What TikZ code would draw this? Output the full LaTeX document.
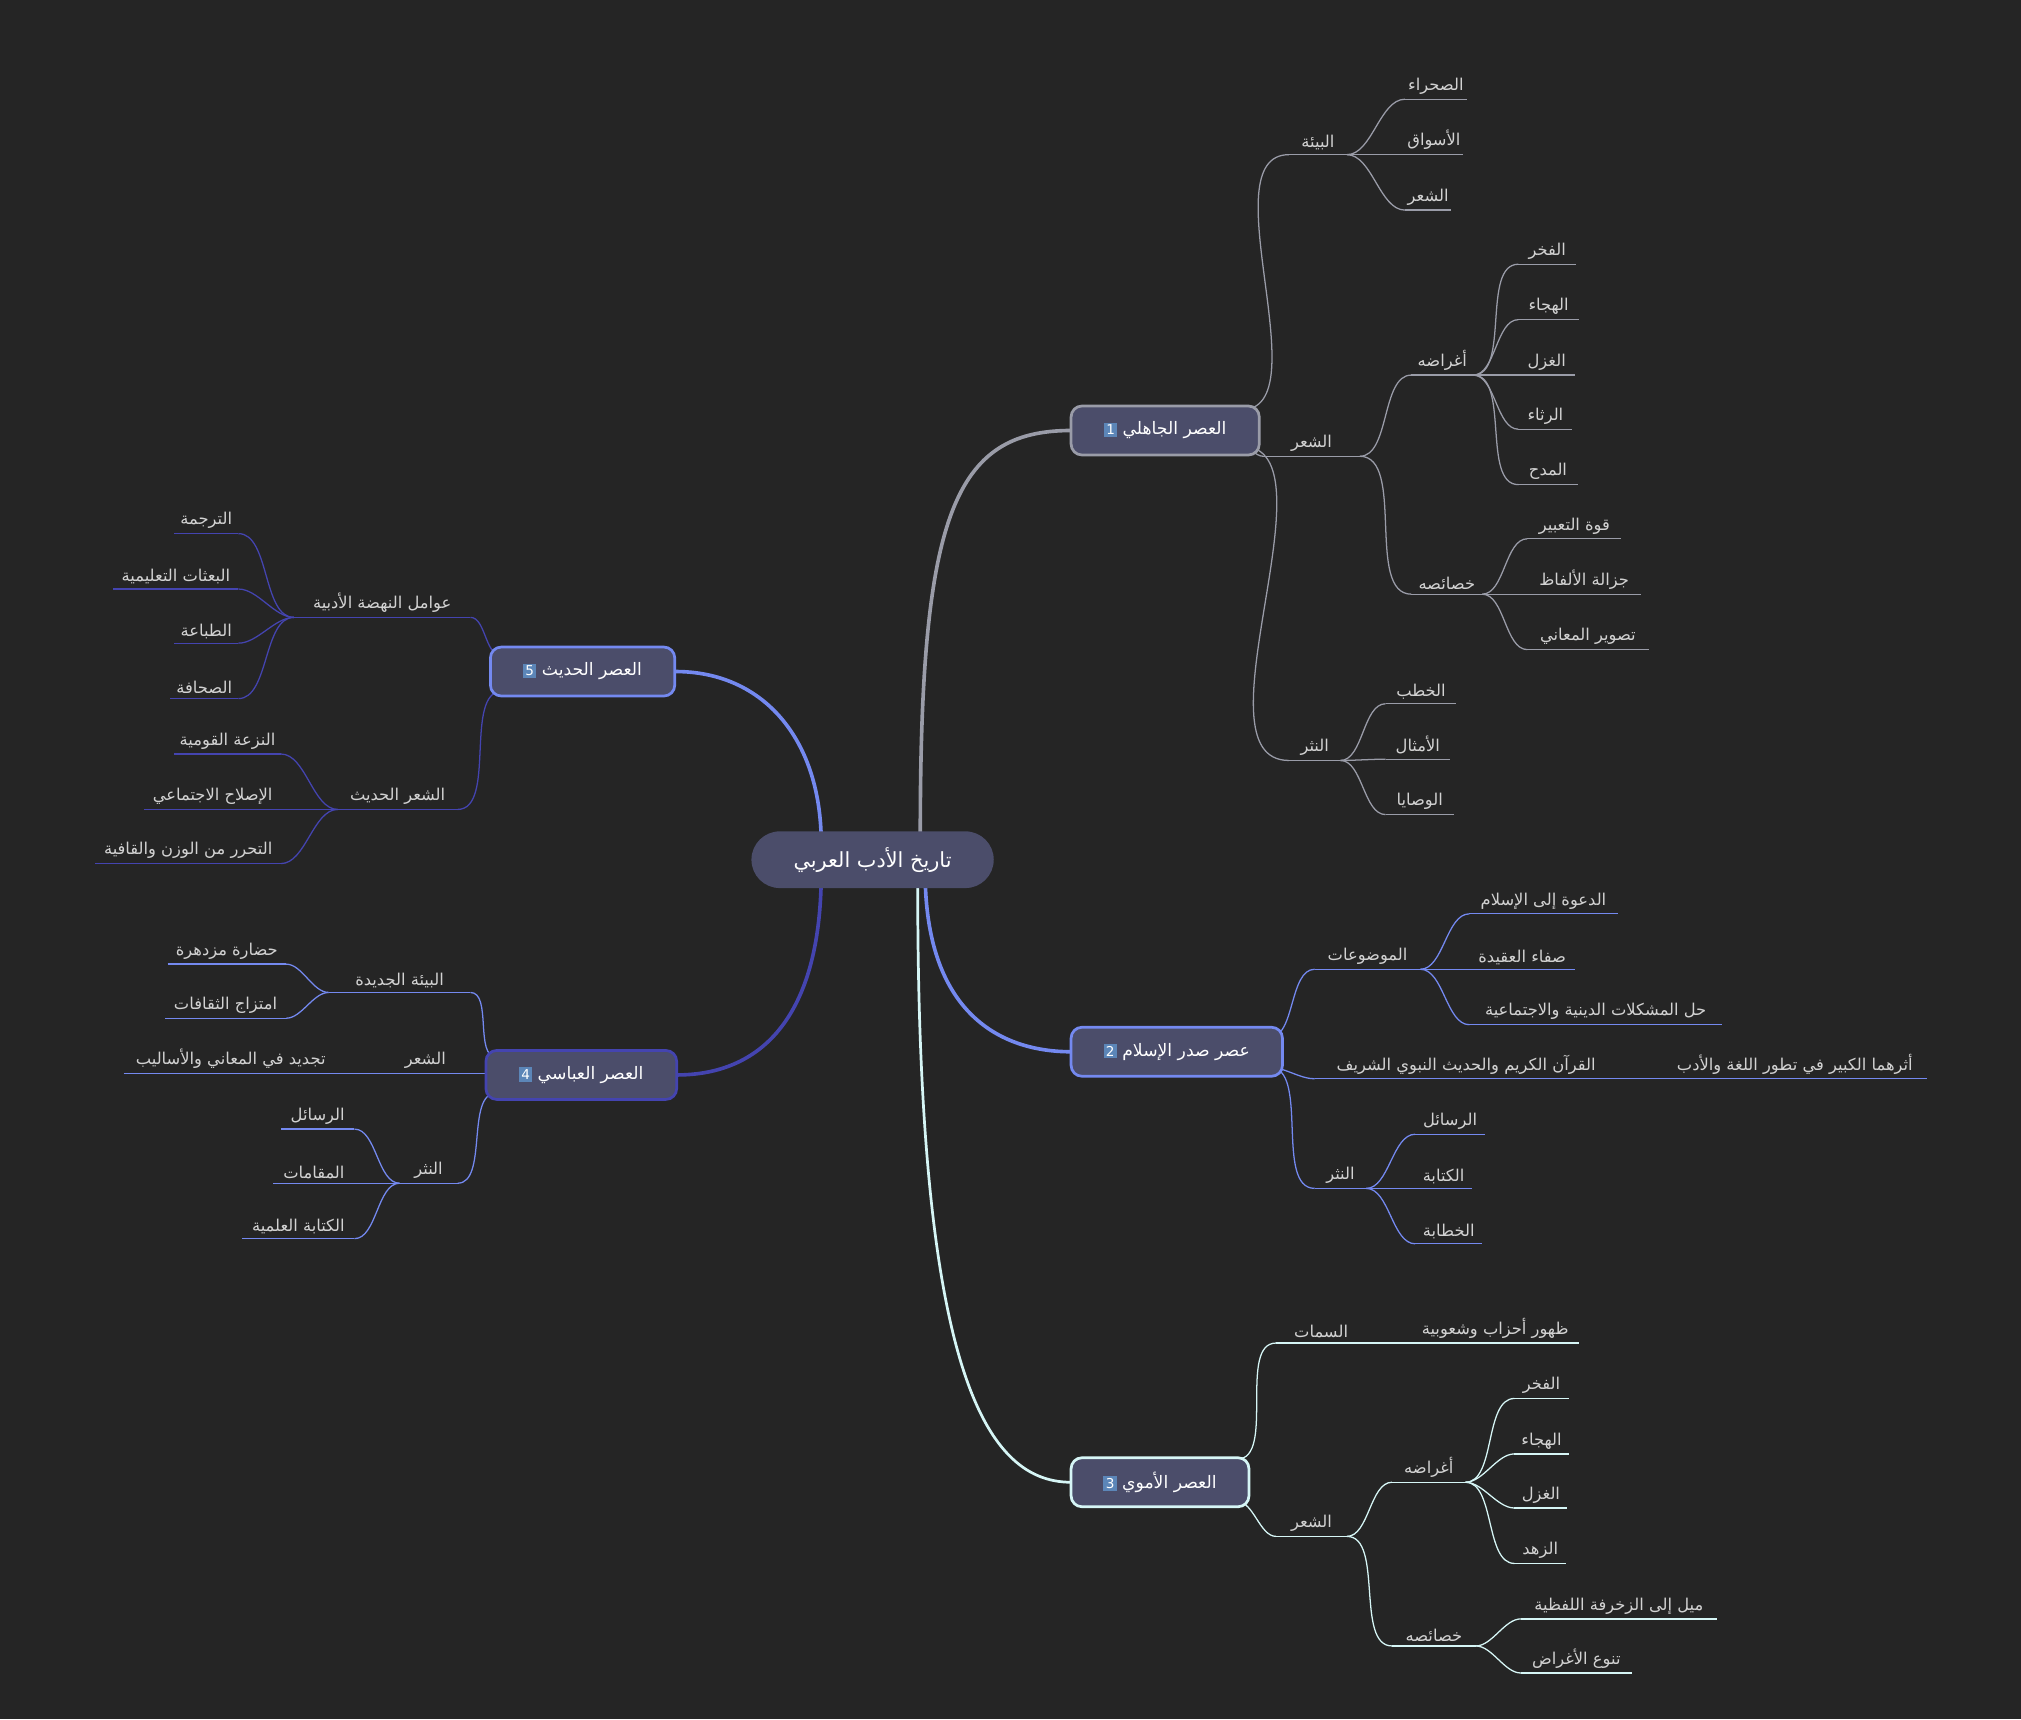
\documentclass[tikz,border=0pt]{standalone}
\usepackage{fontspec}
\setmainfont{DejaVu Sans}
\newfontfamily\arfont[Script=Arabic]{DejaVu Sans}
\TeXXeTstate=1
\newcommand\AR[1]{{\arfont\beginR #1\endR}}
\definecolor{bg}{HTML}{252525}
\definecolor{txt}{HTML}{D2D2D2}
\definecolor{boxf}{HTML}{4B4D6A}
\definecolor{cgray}{HTML}{9A9CA8}
\definecolor{cblue}{HTML}{7489F0}
\definecolor{cdark}{HTML}{4444B0}
\definecolor{ccyan}{HTML}{D6F6F6}
\definecolor{keyc}{HTML}{5C86B8}
\newcommand\keycap[1]{{\setlength\fboxsep{2.5pt}\colorbox{keyc}{\textcolor{white}{\fontsize{15}{15}\selectfont #1}}}}
\tikzset{
  leaf/.style={line width=1.4pt},
  lbl/.style={text=txt,font=\fontsize{18}{21}\selectfont,anchor=south,inner sep=2pt,yshift=3pt},
  br/.style={draw=#1,line width=3pt,fill=boxf,rounded corners=12pt,minimum height=38*0.05cm,text=white,font=\fontsize{19}{23}\selectfont,inner sep=0pt},
  main/.style={line width=4pt}
}
% name, x1, x2, y, text, color
\newcommand\mitem[6]{\coordinate (#1-L) at (#2,#4); \coordinate (#1-R) at (#3,#4);
  \draw[leaf,#6] (#1-L) -- (#1-R);
  \node[lbl] (#1) at ({(#2+#3)/2},#4) {\AR{#5}};}
\newcommand\rc[3]{\draw[leaf,#3] (#1) to[out=0,in=180,looseness=0.8] (#2);}
\newcommand\lc[3]{\draw[leaf,#3] (#1) to[out=180,in=0,looseness=0.8] (#2);}
\begin{document}
\begin{tikzpicture}[x=0.05cm,y=-0.05cm]
\fill[bg] (0,0) rectangle (1568,1334);
\useasboundingbox (0,0) rectangle (1568,1334);
\coordinate (r1) at (714,646); \coordinate (r2) at (718,688);
\coordinate (r3) at (712,688); \coordinate (r4) at (637,688); \coordinate (r5) at (637,646);
\coordinate (e1w) at (831,334); \coordinate (e2w) at (831,816); \coordinate (e3w) at (831,1150);
\coordinate (e4e) at (525,834); \coordinate (e5e) at (524,521);
\draw[main,cgray] (r1) .. controls (714,400) and (740,334) .. (e1w);
\draw[main,cblue] (r2) .. controls (722,790) and (780,816) .. (e2w);
\draw[main,ccyan,line width=3pt] (r3) .. controls (712,1050) and (760,1150) .. (e3w);
\draw[main,cdark] (r4) .. controls (634,790) and (590,834) .. (e4e);
\draw[main,cblue] (r5) .. controls (634,570) and (590,521) .. (e5e);
% root
\node[fill=boxf,rounded corners=22*0.05cm,minimum width=188*0.05cm,minimum height=44*0.05cm,text=white,font=\fontsize{23}{27}\selectfont] (root) at (677,667) {\AR{تاريخ الأدب العربي}};
% ---- branch 1
\coordinate (p1) at (963,318); \coordinate (p1b) at (963,346);
\mitem{a}{1000}{1045}{120}{البيئة}{cgray}
\mitem{a1}{1090}{1138}{77}{الصحراء}{cgray}
\mitem{a2}{1090}{1135}{120}{الأسواق}{cgray}
\mitem{a3}{1090}{1126}{163}{الشعر}{cgray}
\mitem{s}{980}{1055}{354}{الشعر}{cgray}
\mitem{g}{1095}{1143}{291}{أغراضه}{cgray}
\mitem{g1}{1178}{1223}{205}{الفخر}{cgray}
\mitem{g2}{1178}{1225}{248}{الهجاء}{cgray}
\mitem{g3}{1178}{1222}{291}{الغزل}{cgray}
\mitem{g4}{1178}{1220}{333}{الرثاء}{cgray}
\mitem{g5}{1178}{1224}{376}{المدح}{cgray}
\mitem{k}{1095}{1150}{461}{خصائصه}{cgray}
\mitem{k1}{1185}{1258}{418}{قوة التعبير}{cgray}
\mitem{k2}{1185}{1273}{461}{جزالة الألفاظ}{cgray}
\mitem{k3}{1185}{1279}{504}{تصوير المعاني}{cgray}
\mitem{n}{1000}{1040}{590}{النثر}{cgray}
\mitem{n1}{1075}{1130}{546}{الخطب}{cgray}
\mitem{n2}{1075}{1125}{589}{الأمثال}{cgray}
\mitem{n3}{1075}{1128}{632}{الوصايا}{cgray}
\rc{p1}{a-L}{cgray}\rc{p1b}{s-L}{cgray}\rc{p1b}{n-L}{cgray}
\rc{a-R}{a1-L}{cgray}\rc{a-R}{a2-L}{cgray}\rc{a-R}{a3-L}{cgray}
\rc{s-R}{g-L}{cgray}\rc{s-R}{k-L}{cgray}
\rc{g-R}{g1-L}{cgray}\rc{g-R}{g2-L}{cgray}\rc{g-R}{g3-L}{cgray}\rc{g-R}{g4-L}{cgray}\rc{g-R}{g5-L}{cgray}
\rc{k-R}{k1-L}{cgray}\rc{k-R}{k2-L}{cgray}\rc{k-R}{k3-L}{cgray}
\rc{n-R}{n1-L}{cgray}\rc{n-R}{n2-L}{cgray}\rc{n-R}{n3-L}{cgray}
% ---- branch 2
\coordinate (p2) at (985,805); \coordinate (p2b) at (985,828);
\mitem{m}{1020}{1102}{752}{الموضوعات}{cblue}
\mitem{m1}{1140}{1255}{709}{الدعوة إلى الإسلام}{cblue}
\mitem{m2}{1140}{1222}{752}{صفاء العقيدة}{cblue}
\mitem{m3}{1140}{1336}{795}{حل المشكلات الدينية والاجتماعية}{cblue}
\mitem{q}{1020}{1255}{837}{القرآن الكريم والحديث النبوي الشريف}{cblue}
\mitem{q1}{1290}{1495}{837}{أثرهما الكبير في تطور اللغة والأدب}{cblue}
\mitem{t}{1020}{1060}{922}{النثر}{cblue}
\mitem{t1}{1098}{1152}{880}{الرسائل}{cblue}
\mitem{t2}{1098}{1142}{922}{الكتابة}{cblue}
\mitem{t3}{1098}{1150}{965}{الخطابة}{cblue}
\rc{p2}{m-L}{cblue}\rc{p2b}{q-L}{cblue}\rc{p2b}{t-L}{cblue}\rc{q-R}{q1-L}{cblue}
\rc{m-R}{m1-L}{cblue}\rc{m-R}{m2-L}{cblue}\rc{m-R}{m3-L}{cblue}
\rc{t-R}{t1-L}{cblue}\rc{t-R}{t2-L}{cblue}\rc{t-R}{t3-L}{cblue}
% ---- branch 3
\coordinate (p3) at (960,1132); \coordinate (p3b) at (960,1165);
\mitem{h}{990}{1060}{1042}{السمات}{ccyan}
\mitem{h1}{1095}{1225}{1042}{ظهور أحزاب وشعوبية}{ccyan}
\mitem{u}{990}{1045}{1192}{الشعر}{ccyan}
\mitem{v}{1080}{1137}{1150}{أغراضه}{ccyan}
\mitem{v1}{1175}{1217}{1085}{الفخر}{ccyan}
\mitem{v2}{1175}{1217}{1128}{الهجاء}{ccyan}
\mitem{v3}{1175}{1216}{1170}{الغزل}{ccyan}
\mitem{v4}{1175}{1215}{1213}{الزهد}{ccyan}
\mitem{w}{1080}{1145}{1277}{خصائصه}{ccyan}
\mitem{w1}{1180}{1332}{1256}{ميل إلى الزخرفة اللفظية}{ccyan}
\mitem{w2}{1180}{1266}{1298}{تنوع الأغراض}{ccyan}
\rc{p3}{h-L}{ccyan}\rc{h-R}{h1-L}{ccyan}\rc{p3b}{u-L}{ccyan}
\rc{u-R}{v-L}{ccyan}\rc{u-R}{w-L}{ccyan}
\rc{v-R}{v1-L}{ccyan}\rc{v-R}{v2-L}{ccyan}\rc{v-R}{v3-L}{ccyan}\rc{v-R}{v4-L}{ccyan}
\rc{w-R}{w1-L}{ccyan}\rc{w-R}{w2-L}{ccyan}
% ---- branch 4
\coordinate (p4) at (385,820); \coordinate (p4b) at (385,848);
\mitem{e}{255}{365}{770}{البيئة الجديدة}{cblue}
\mitem{e1}{130}{222}{748}{حضارة مزدهرة}{cblue}
\mitem{e2}{128}{222}{790}{امتزاج الثقافات}{cblue}
\mitem{f}{290}{370}{833}{الشعر}{cblue}
\mitem{f1}{96}{262}{833}{تجديد في المعاني والأساليب}{cblue}
\mitem{o}{310}{355}{918}{النثر}{cblue}
\mitem{o1}{218}{275}{876}{الرسائل}{cblue}
\mitem{o2}{212}{275}{918}{المقامات}{cblue}
\mitem{o3}{188}{275}{961}{الكتابة العلمية}{cblue}
\lc{p4}{e-R}{cblue}\draw[leaf,cblue] (f-R) -- (385,833);\lc{f-L}{f1-R}{cblue}\lc{p4b}{o-R}{cblue}
\lc{e-L}{e1-R}{cblue}\lc{e-L}{e2-R}{cblue}
\lc{o-L}{o1-R}{cblue}\lc{o-L}{o2-R}{cblue}\lc{o-L}{o3-R}{cblue}
% ---- branch 5
\coordinate (p5) at (388,508); \coordinate (p5b) at (390,536);
\mitem{c}{228}{365}{479}{عوامل النهضة الأدبية}{cdark}
\mitem{c1}{135}{185}{414}{الترجمة}{cdark}
\mitem{c2}{88}{185}{457}{البعثات التعليمية}{cdark}
\mitem{c3}{135}{185}{499}{الطباعة}{cdark}
\mitem{c4}{132}{185}{542}{الصحافة}{cdark}
\mitem{d}{262}{355}{628}{الشعر الحديث}{cdark}
\mitem{d1}{135}{218}{585}{النزعة القومية}{cdark}
\mitem{d2}{112}{218}{628}{الإصلاح الاجتماعي}{cdark}
\mitem{d3}{74}{218}{670}{التحرر من الوزن والقافية}{cdark}
\lc{p5}{c-R}{cdark}\lc{p5b}{d-R}{cdark}
\lc{c-L}{c1-R}{cdark}\lc{c-L}{c2-R}{cdark}\lc{c-L}{c3-R}{cdark}\lc{c-L}{c4-R}{cdark}
\lc{d-L}{d1-R}{cdark}\lc{d-L}{d2-R}{cdark}\lc{d-L}{d3-R}{cdark}
% branch boxes on top
\node[br=cgray,minimum width=146*0.05cm] (b1) at (904,334) {\keycap{1}\ \AR{العصر الجاهلي}};
\node[br=cblue,minimum width=164*0.05cm] (b2) at (913,816) {\keycap{2}\ \AR{عصر صدر الإسلام}};
\node[br=ccyan,minimum width=138*0.05cm] (b3) at (900,1150) {\keycap{3}\ \AR{العصر الأموي}};
\node[br=cdark,minimum width=148*0.05cm] (b4) at (451,834) {\keycap{4}\ \AR{العصر العباسي}};
\node[br=cblue,minimum width=143*0.05cm] (b5) at (452,521) {\keycap{5}\ \AR{العصر الحديث}};
\end{tikzpicture}
\end{document}
